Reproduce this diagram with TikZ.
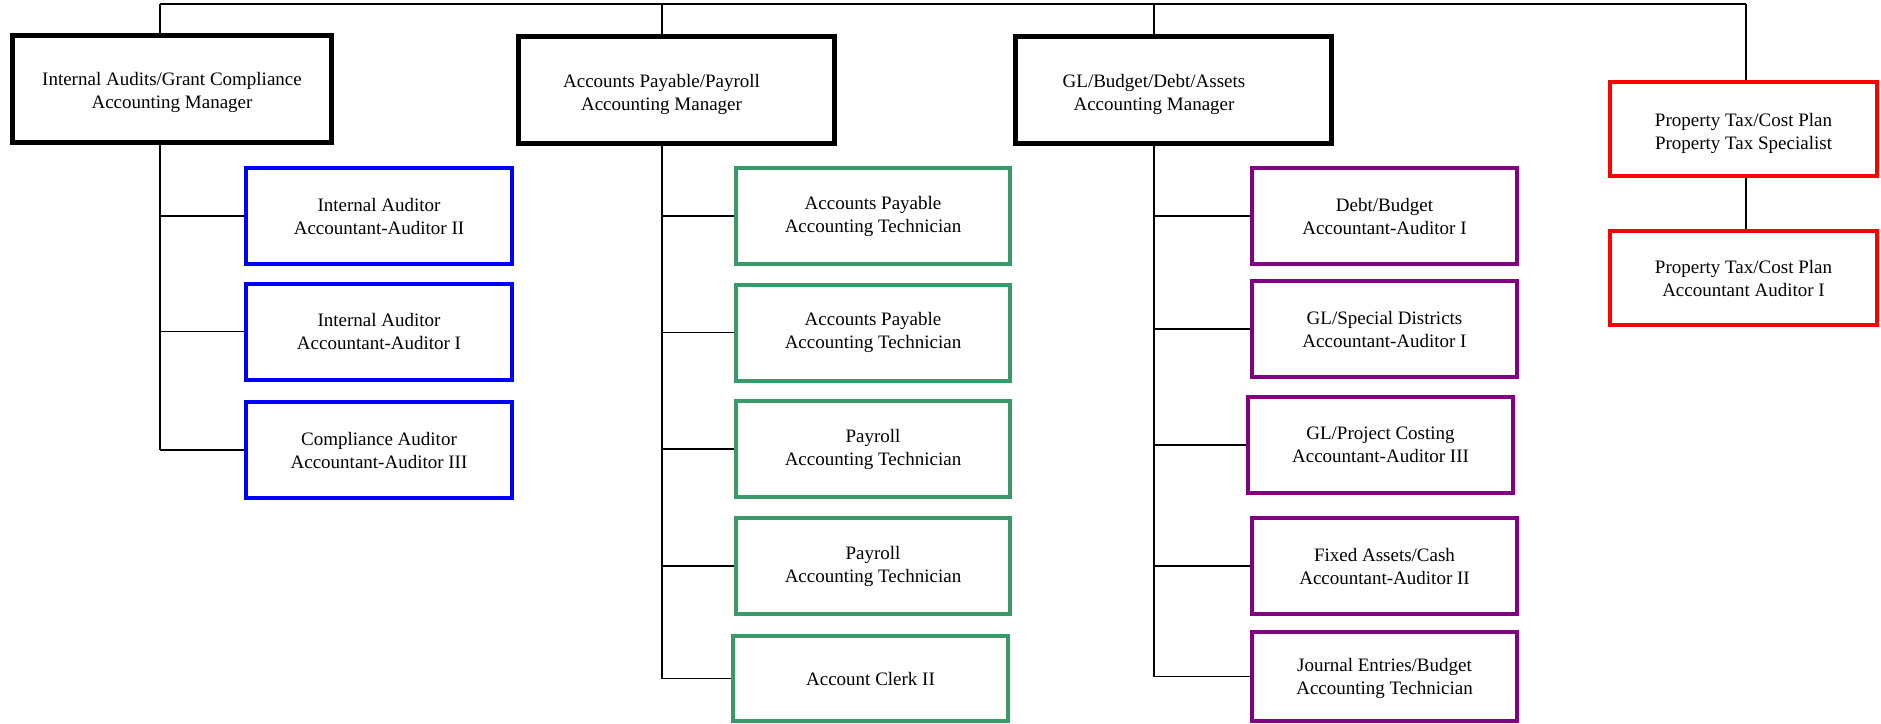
\documentclass[tikz,border=0pt]{standalone}
\usepackage{fontspec}
\setmainfont{Liberation Serif}
\usetikzlibrary{positioning}
\definecolor{auditblue}{RGB}{0,0,255}
\definecolor{payrollgreen}{RGB}{56,154,104}
\definecolor{ledgerpurple}{RGB}{128,0,128}
\definecolor{taxred}{RGB}{255,0,0}
% #1 extra room on the right (moves text left by half), #2 first line height, #3 lines
\newcommand{\cardtext}[3]{\begin{tabular}{@{}c@{}}\rule{0pt}{#2}#3\end{tabular}\hspace*{#1}}
\tikzset{
  box/.style            = { rectangle, inner sep=0pt, align=center,
                            font=\fontsize{19}{23}\selectfont },
  manager/.style        = { box, draw=black, line width=5pt,
                            minimum width=316, minimum height=107 },
  staff/.style          = { box, line width=4pt,
                            minimum width=266, minimum height=96 },
  audit/.style          = { staff, draw=auditblue },
  payroll/.style        = { staff, draw=payrollgreen, minimum width=274 },
  ledger/.style         = { staff, draw=ledgerpurple, minimum width=265 },
  tax/.style            = { staff, draw=taxred, minimum width=267, minimum height=94 },
  link/.style           = { line width=1.5pt, draw=black },
}
\begin{document}
\begin{tikzpicture}[x=1pt, y=-1pt]
  \useasboundingbox (0,0) rectangle (1881,723);

  % managers
  \node (audits)  [manager, minimum width=319] at (172,88.5)
    {\cardtext{0pt}{24pt}{Internal Audits/Grant Compliance\\Accounting Manager}};
  \node (payable) [manager] at (676,90)
    {\cardtext{29pt}{24pt}{Accounts Payable/Payroll\\Accounting Manager}};
  \node (ledger)  [manager] at (1173,89.5)
    {\cardtext{38pt}{25pt}{GL/Budget/Debt/Assets\\Accounting Manager}};
  \node (taxspec) [tax]     at (1743.5,129)
    {\cardtext{0pt}{25pt}{Property Tax/Cost Plan\\Property Tax Specialist}};
  \node (taxaud)  [tax]     at (1743.5,277.5)
    {\cardtext{0pt}{22pt}{Property Tax/Cost Plan\\Accountant Auditor I}};

  % internal audits staff
  \node (ia1) [audit] at (379,216)   {Internal Auditor\\Accountant-Auditor II};
  \node (ia2) [audit] at (379,331.5) {Internal Auditor\\Accountant-Auditor I};
  \node (ia3) [audit] at (379,450)   {Compliance Auditor\\Accountant-Auditor III};

  % payable/payroll staff
  \node (ap1) [payroll] at (873,216)   {Accounts Payable\\Accounting Technician};
  \node (ap2) [payroll] at (873,332.5) {Accounts Payable\\Accounting Technician};
  \node (pr1) [payroll] at (873,449)   {Payroll\\Accounting Technician};
  \node (pr2) [payroll] at (873,566)   {Payroll\\Accounting Technician};
  \node (clerk) [payroll, minimum width=275, minimum height=85] at (870.5,678.5) {Account Clerk II};

  % ledger staff
  \node (gl1) [ledger] at (1384.5,216) {Debt/Budget\\Accountant-Auditor I};
  \node (gl2) [ledger] at (1384.5,329) {GL/Special Districts\\Accountant-Auditor I};
  \node (gl3) [ledger] at (1380.5,445) {GL/Project Costing\\Accountant-Auditor III};
  \node (gl4) [ledger] at (1384.5,566) {Fixed Assets/Cash\\Accountant-Auditor II};
  \node (gl5) [ledger, minimum height=89] at (1384.5,676.5)
    {\cardtext{0pt}{20pt}{Journal Entries/Budget\\Accounting Technician}};

  % top bar
  \coordinate (top1) at (160,4);
  \coordinate (top2) at (662,4);
  \coordinate (top3) at (1154,4);
  \coordinate (top4) at (1746,4);
  \draw [link] (top1) -- (top4);
  \draw [link] (top1) -- (top1 |- audits.north);
  \draw [link] (top2) -- (top2 |- payable.north);
  \draw [link] (top3) -- (top3 |- ledger.north);
  \draw [link] (top4) -- (top4 |- taxspec.north);

  % trunks
  \draw [link] (top1 |- audits.south) -- (top1 |- ia3.west);
  \draw [link] (top2 |- payable.south) -- (top2 |- clerk.west);
  \draw [link] (top3 |- ledger.south) -- (top3 |- gl5.west);
  \draw [link] (taxspec.south -| top4) -- (taxaud.north -| top4);

  % stubs
  \foreach \n in {ia1,ia2,ia3}
    \draw [link] (top1 |- \n.west) -- (\n.west);
  \foreach \n in {ap1,ap2,pr1,pr2,clerk}
    \draw [link] (top2 |- \n.west) -- (\n.west);
  \foreach \n in {gl1,gl2,gl3,gl4,gl5}
    \draw [link] (top3 |- \n.west) -- (\n.west);
\end{tikzpicture}
\end{document}
